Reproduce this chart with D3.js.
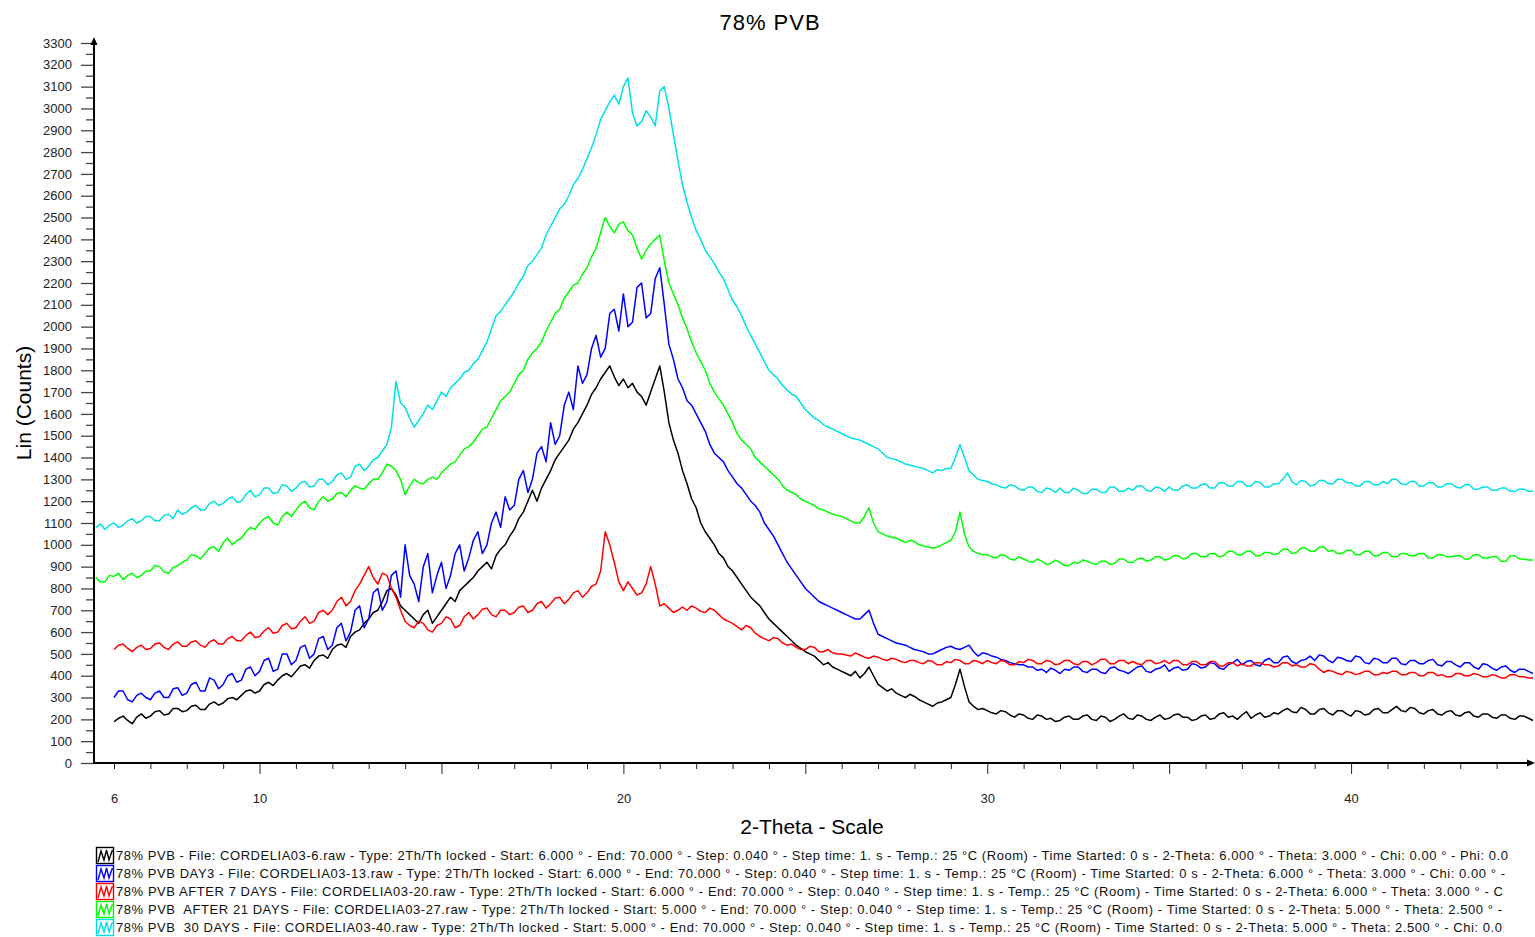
<!DOCTYPE html>
<html>
<head>
<meta charset="utf-8">
<script src="https://cdn.jsdelivr.net/npm/d3@7"></script>
<style>
  body { margin: 0; background: #fff; }
  text { font-family: "Liberation Sans", Arial, sans-serif; }
</style>
</head>
<body>
<svg id="chart" width="1535" height="937"></svg>
<script>
const step = 0.125;

// counts, one row per degree (8 points per degree)
const blackStart = 6;
const blackCounts = [
  190, 205, 215, 195, 180, 210, 225, 205,
  215, 235, 240, 220, 225, 250, 250, 235,
  240, 260, 265, 245, 245, 270, 280, 265,
  275, 295, 300, 290, 310, 330, 335, 320,
  330, 360, 370, 355, 380, 400, 410, 395,
  420, 445, 450, 435, 470, 490, 495, 480,
  520, 540, 545, 530, 580, 600, 610, 640,
  660, 690, 700, 740, 790, 800, 770, 720,
  700, 680, 660, 640, 680, 700, 640, 670,
  700, 730, 760, 740, 790, 810, 830, 850,
  880, 900, 920, 890, 950, 980, 1000, 1040,
  1070, 1120, 1150, 1200, 1250, 1200, 1260, 1300,
  1340, 1390, 1420, 1450, 1480, 1530, 1560, 1600,
  1640, 1690, 1720, 1760, 1790, 1820, 1770, 1730,
  1760, 1720, 1740, 1700, 1680, 1640, 1700, 1760,
  1820, 1700, 1560, 1480, 1420, 1340, 1280, 1210,
  1170, 1100, 1060, 1030, 1000, 960, 940, 900,
  880, 850, 820, 790, 760, 740, 720, 690,
  660, 640, 620, 600, 580, 560, 540, 525,
  510, 500, 490, 470, 450, 460, 440, 430,
  420, 410, 400, 420, 390, 410, 440, 400,
  360, 345, 330, 340, 320, 310, 300, 315,
  305, 290, 280, 270, 260, 275, 280, 290,
  300, 360, 430, 350, 280, 260, 245, 250,
  240, 230, 225, 240, 235, 220, 210, 225,
  220, 205, 200, 220, 215, 200, 205, 190,
  195, 210, 215, 200, 200, 215, 220, 200,
  195, 215, 210, 190, 200, 215, 225, 205,
  200, 220, 215, 200, 195, 210, 220, 200,
  205, 220, 225, 210, 210, 195, 200, 215,
  220, 200, 205, 225, 230, 210, 215, 200,
  220, 235, 205, 220, 230, 210, 215, 230,
  225, 240, 250, 235, 230, 255, 245, 225,
  225, 245, 250, 230, 220, 240, 240, 225,
  215, 240, 235, 220, 225, 245, 250, 230,
  230, 245, 260, 240, 235, 255, 250, 230,
  225, 240, 245, 225, 220, 235, 240, 220,
  215, 230, 235, 215, 210, 225, 225, 210,
  205, 220, 220, 205, 200, 215, 215, 205,
  195
];

const blueStart = 6;
const blueCounts = [
  300, 330, 330, 290, 280, 310, 320, 300,
  290, 320, 330, 300, 300, 340, 345, 310,
  320, 360, 370, 330, 330, 390, 380, 340,
  360, 400, 410, 370, 380, 430, 440, 400,
  420, 470, 480, 420, 430, 500, 500, 450,
  470, 530, 540, 480, 500, 570, 580, 520,
  540, 620, 640, 560, 600, 700, 720, 620,
  660, 780, 800, 700, 740, 860, 880, 760,
  1000, 860, 820, 740, 900, 960, 780, 860,
  920, 800, 860, 960, 1000, 880, 940, 1020,
  1060, 960, 1000, 1100, 1150, 1080, 1220, 1160,
  1180, 1300, 1340, 1240, 1300, 1420, 1450, 1380,
  1560, 1460, 1500, 1640, 1700, 1620, 1820, 1740,
  1780, 1900, 1960, 1860, 1900, 2060, 2080, 1980,
  2150, 2000, 2020, 2180, 2200, 2040, 2060, 2220,
  2270, 2100, 1920, 1850, 1760, 1720, 1660, 1640,
  1600, 1560, 1520, 1460, 1420, 1400, 1380, 1340,
  1310, 1280, 1260, 1230, 1200, 1180, 1150, 1100,
  1070, 1040, 1000, 960, 920, 890, 860, 830,
  800, 780, 760, 740, 730, 720, 710, 700,
  690, 680, 670, 660, 660, 680, 700, 640,
  590, 580, 570, 560, 550, 545, 540, 530,
  520, 515, 510, 500, 500, 510, 520, 530,
  535, 525, 520, 530, 540, 510, 490, 505,
  500, 490, 485, 475, 470, 460, 455, 450,
  450, 440, 440, 425, 430, 415, 435, 425,
  410, 430, 425, 440, 440, 420, 415, 430,
  430, 415, 410, 435, 440, 425, 420, 410,
  425, 440, 445, 420, 415, 430, 435, 450,
  420, 435, 440, 425, 430, 455, 450, 435,
  440, 460, 455, 435, 430, 450, 460, 475,
  450, 465, 470, 450, 445, 470, 480, 460,
  460, 485, 490, 465, 455, 470, 475, 490,
  470, 495, 490, 470, 460, 485, 480, 470,
  465, 490, 485, 460, 455, 480, 475, 460,
  460, 480, 480, 455, 450, 470, 470, 455,
  455, 470, 475, 450, 445, 465, 465, 450,
  440, 460, 460, 440, 430, 455, 450, 435,
  425, 440, 445, 425, 415, 430, 430, 420,
  410
];

const redStart = 6;
const redCounts = [
  520, 540, 545, 525, 510, 530, 540, 520,
  525, 545, 550, 530, 520, 545, 555, 535,
  535, 555, 560, 540, 530, 555, 565, 545,
  545, 570, 580, 560, 560, 585, 600, 575,
  580, 605, 620, 595, 600, 630, 640, 615,
  620, 650, 670, 640, 650, 690, 700, 680,
  700, 740, 760, 720, 740, 790, 820, 860,
  900, 850, 820, 870, 860, 800, 760, 700,
  650, 630, 620, 650, 640, 610, 600, 630,
  640, 670, 660, 620, 630, 670, 690, 660,
  680, 705, 710, 680, 670, 700, 700, 680,
  690, 715, 720, 690, 700, 730, 740, 710,
  730, 755, 760, 730, 750, 780, 790, 760,
  780, 810, 820, 880, 1060, 1000, 920, 830,
  790, 830, 800, 770, 780, 820, 900, 820,
  720, 730, 710, 690, 700, 715, 700, 720,
  710, 695, 690, 710, 700, 680, 660, 650,
  640, 625, 610, 630, 620, 595, 580, 570,
  560, 575, 570, 550, 540, 545, 530, 520,
  520, 535, 530, 510, 510, 520, 505, 500,
  500, 495, 490, 505, 495, 485, 480, 490,
  485, 475, 470, 480, 475, 465, 460, 470,
  470, 460, 455, 470, 465, 450, 450, 465,
  460, 475, 470, 455, 455, 470, 465, 455,
  470, 460, 455, 470, 465, 450, 450, 465,
  460, 475, 470, 455, 455, 470, 465, 450,
  455, 470, 470, 455, 450, 465, 465, 450,
  460, 475, 475, 455, 455, 470, 470, 455,
  465, 455, 450, 470, 470, 455, 460, 470,
  455, 470, 470, 450, 450, 465, 465, 450,
  450, 465, 465, 445, 445, 460, 460, 445,
  455, 445, 445, 460, 460, 450, 450, 440,
  445, 460, 460, 445, 450, 440, 440, 455,
  450, 430, 415, 425, 420, 410, 405, 420,
  415, 405, 410, 420, 420, 405, 405, 415,
  410, 420, 420, 405, 405, 415, 415, 400,
  400, 415, 415, 400, 405, 395, 395, 410,
  410, 400, 400, 410, 405, 395, 395, 405,
  400, 390, 390, 405, 405, 395, 395, 390,
  390
];

const greenStart = 5.5;
const greenCounts = [
  850, 830, 830, 860,
  855, 870, 840, 860, 870, 850, 860, 880,
  880, 905, 900, 875, 870, 895, 905, 920,
  930, 955, 950, 935, 960, 985, 990, 970,
  1010, 1030, 1000, 1020, 1030, 1060, 1080, 1070,
  1100, 1120, 1130, 1100, 1090, 1130, 1150, 1130,
  1160, 1185, 1200, 1170, 1160, 1200, 1220, 1200,
  1210, 1235, 1240, 1220, 1250, 1270, 1260, 1255,
  1280, 1300, 1300, 1330, 1370, 1360, 1340, 1300,
  1230, 1270, 1300, 1285, 1280, 1300, 1310, 1300,
  1330, 1350, 1370, 1380, 1410, 1440, 1450, 1470,
  1500, 1530, 1540, 1580, 1620, 1660, 1680, 1700,
  1740, 1780, 1800, 1850, 1880, 1900, 1930, 1980,
  2020, 2060, 2080, 2130, 2160, 2190, 2200, 2240,
  2270, 2320, 2360, 2430, 2500, 2460, 2430, 2470,
  2480, 2440, 2420, 2360, 2310, 2350, 2380, 2400,
  2420, 2300, 2200, 2150, 2100, 2040, 1990, 1930,
  1880, 1840, 1800, 1740, 1700, 1670, 1640, 1600,
  1560, 1510, 1480, 1460, 1440, 1400, 1380, 1360,
  1340, 1320, 1300, 1270, 1250, 1240, 1230, 1210,
  1200, 1190, 1180, 1165, 1160, 1150, 1140, 1135,
  1130, 1120, 1110, 1100, 1100, 1130, 1170, 1100,
  1060, 1050, 1040, 1035, 1030, 1020, 1010, 1020,
  1015, 1000, 995, 990, 985, 990, 1000, 1010,
  1020, 1060, 1150, 1050, 990, 970, 960, 955,
  955, 945, 940, 955, 950, 935, 930, 945,
  935, 925, 920, 935, 925, 910, 915, 930,
  920, 905, 905, 920, 915, 930, 925, 915,
  910, 925, 925, 910, 915, 935, 935, 920,
  920, 935, 940, 925, 930, 945, 945, 930,
  935, 950, 950, 935, 940, 960, 960, 945,
  945, 960, 960, 945, 950, 970, 970, 955,
  955, 970, 970, 950, 950, 965, 965, 955,
  960, 980, 980, 960, 965, 985, 985, 970,
  970, 990, 990, 970, 975, 960, 960, 975,
  975, 955, 955, 970, 970, 950, 950, 965,
  965, 945, 945, 960, 960, 950, 950, 960,
  960, 940, 940, 955, 955, 945, 945, 950,
  950, 935, 935, 955, 955, 940, 940, 945,
  945, 925, 925, 950, 950, 935, 935, 930,
  930
];

const cyanStart = 5.5;
const cyanCounts = [
  1080, 1095, 1070, 1090,
  1100, 1080, 1090, 1110, 1120, 1100, 1110, 1130,
  1130, 1110, 1110, 1135, 1140, 1120, 1160, 1140,
  1150, 1170, 1180, 1160, 1160, 1190, 1200, 1180,
  1190, 1210, 1220, 1195, 1200, 1230, 1250, 1220,
  1230, 1260, 1260, 1235, 1240, 1275, 1270, 1245,
  1260, 1285, 1290, 1265, 1270, 1300, 1300, 1275,
  1290, 1320, 1330, 1300, 1310, 1360, 1370, 1340,
  1360, 1390, 1400, 1430, 1460, 1540, 1750, 1650,
  1630, 1580, 1540, 1570, 1600, 1640, 1620, 1660,
  1700, 1680, 1720, 1740, 1760, 1790, 1800, 1830,
  1850, 1890, 1930, 1990, 2050, 2070, 2100, 2130,
  2160, 2200, 2230, 2280, 2300, 2330, 2360, 2420,
  2460, 2500, 2540, 2560, 2600, 2650, 2680, 2720,
  2770, 2820, 2880, 2950, 2990, 3030, 3060, 3020,
  3100, 3140, 2980, 2920, 2940, 2990, 2960, 2920,
  3080, 3100, 3000, 2880, 2760, 2650, 2570, 2500,
  2440, 2400, 2350, 2320, 2290, 2250, 2220, 2170,
  2120, 2090, 2050, 2000, 1960, 1920, 1880, 1840,
  1800, 1780, 1760, 1730, 1710, 1690, 1680, 1650,
  1620, 1600, 1580, 1570, 1550, 1540, 1530, 1520,
  1510, 1500, 1490, 1485, 1480, 1470, 1460, 1450,
  1440, 1420, 1400, 1395, 1390, 1380, 1370, 1365,
  1360, 1355, 1350, 1340, 1330, 1345, 1340, 1350,
  1350, 1400, 1460, 1400, 1340, 1320, 1300, 1295,
  1290, 1280, 1275, 1265, 1260, 1275, 1270, 1255,
  1250, 1265, 1265, 1245, 1240, 1260, 1255, 1240,
  1260, 1240, 1240, 1260, 1250, 1235, 1235, 1255,
  1255, 1240, 1240, 1265, 1265, 1245, 1245, 1260,
  1250, 1270, 1270, 1250, 1245, 1265, 1260, 1245,
  1265, 1250, 1250, 1270, 1275, 1260, 1260, 1275,
  1280, 1260, 1260, 1285, 1285, 1270, 1270, 1290,
  1290, 1270, 1270, 1290, 1285, 1265, 1265, 1280,
  1280, 1300, 1330, 1290, 1275, 1295, 1290, 1270,
  1275, 1295, 1295, 1280, 1280, 1300, 1300, 1285,
  1285, 1270, 1270, 1290, 1290, 1275, 1275, 1290,
  1280, 1300, 1300, 1280, 1275, 1290, 1290, 1270,
  1270, 1285, 1285, 1265, 1265, 1280, 1280, 1265,
  1260, 1275, 1275, 1255, 1255, 1265, 1265, 1250,
  1250, 1260, 1260, 1245, 1245, 1255, 1255, 1245,
  1245
];

const legendLabels = [
  "78% PVB - File: CORDELIA03-6.raw - Type: 2Th/Th locked - Start: 6.000 ° - End: 70.000 ° - Step: 0.040 ° - Step time: 1. s - Temp.: 25 °C (Room) - Time Started: 0 s - 2-Theta: 6.000 ° - Theta: 3.000 ° - Chi: 0.00 ° - Phi: 0.0",
  "78% PVB DAY3 - File: CORDELIA03-13.raw - Type: 2Th/Th locked - Start: 6.000 ° - End: 70.000 ° - Step: 0.040 ° - Step time: 1. s - Temp.: 25 °C (Room) - Time Started: 0 s - 2-Theta: 6.000 ° - Theta: 3.000 ° - Chi: 0.00 ° -",
  "78% PVB AFTER 7 DAYS - File: CORDELIA03-20.raw - Type: 2Th/Th locked - Start: 6.000 ° - End: 70.000 ° - Step: 0.040 ° - Step time: 1. s - Temp.: 25 °C (Room) - Time Started: 0 s - 2-Theta: 6.000 ° - Theta: 3.000 ° - C",
  "78% PVB  AFTER 21 DAYS - File: CORDELIA03-27.raw - Type: 2Th/Th locked - Start: 5.000 ° - End: 70.000 ° - Step: 0.040 ° - Step time: 1. s - Temp.: 25 °C (Room) - Time Started: 0 s - 2-Theta: 5.000 ° - Theta: 2.500 ° -",
  "78% PVB  30 DAYS - File: CORDELIA03-40.raw - Type: 2Th/Th locked - Start: 5.000 ° - End: 70.000 ° - Step: 0.040 ° - Step time: 1. s - Temp.: 25 °C (Room) - Time Started: 0 s - 2-Theta: 5.000 ° - Theta: 2.500 ° - Chi: 0.0"
];
const legendTextEnd = [1508, 1505, 1503, 1502, 1502];

const xTickLabels = [6, 10, 20, 30, 40];
const yMajorTicks = d3.range(0, 3301, 100);
const yMinorTicks = d3.range(50, 3300, 100);

const seriesList = [
  {start: blackStart, counts: blackCounts, color: '#000000'},
  {start: blueStart, counts: blueCounts, color: '#0000ff'},
  {start: redStart, counts: redCounts, color: '#ff0000'},
  {start: greenStart, counts: greenCounts, color: '#00ff00'},
  {start: cyanStart, counts: cyanCounts, color: '#00e0e8'}
];

let svg = d3.select('#chart');
let plotLeft = 94, plotRight = 1533, plotTop = 43, plotBottom = 763;

let x = d3.scaleLinear().domain([5.45, 45]).range([plotLeft, plotRight]);
let y = d3.scaleLinear().domain([0, 3300]).range([plotBottom, plotTop]);

// title and axis titles
svg.append('text')
  .attr('x', 770).attr('y', 30)
  .attr('text-anchor', 'middle')
  .attr('font-size', 22).attr('letter-spacing', 1)
  .text('78% PVB');

svg.append('text')
  .attr('x', 812).attr('y', 834)
  .attr('text-anchor', 'middle')
  .attr('font-size', 21)
  .text('2-Theta - Scale');

svg.append('text')
  .attr('transform', 'translate(31,403) rotate(-90)')
  .attr('text-anchor', 'middle')
  .attr('font-size', 21)
  .text('Lin (Counts)');

// y axis: labelled ticks every 100, short ticks between
svg.append('g')
  .attr('transform', 'translate(' + plotLeft + ',0)')
  .call(d3.axisLeft(y).tickValues(yMajorTicks).tickSize(13).tickPadding(9).tickFormat(d3.format('d')))
  .call(g => g.select('.domain').remove())
  .call(g => g.selectAll('line').attr('stroke', '#444').attr('stroke-width', 1.3))
  .call(g => g.selectAll('text').attr('font-size', 13).attr('fill', '#222')
    .attr('font-family', '"Liberation Sans", Arial, sans-serif'));

svg.append('g')
  .attr('transform', 'translate(' + plotLeft + ',0)')
  .call(d3.axisLeft(y).tickValues(yMinorTicks).tickSize(8).tickFormat(''))
  .call(g => g.select('.domain').remove())
  .call(g => g.selectAll('line').attr('stroke', '#444').attr('stroke-width', 1.3));

// x axis: tick each degree, longer every 5, labels only at a few
let xMinor = d3.range(6, 45, 1).filter(d => d % 5 !== 0);
let xMajor = d3.range(10, 45, 5);

svg.append('g')
  .attr('transform', 'translate(0,' + plotBottom + ')')
  .call(d3.axisBottom(x).tickValues(xMinor).tickSize(6).tickFormat(''))
  .call(g => g.select('.domain').remove())
  .call(g => g.selectAll('line').attr('stroke', '#222'));

svg.append('g')
  .attr('transform', 'translate(0,' + plotBottom + ')')
  .call(d3.axisBottom(x).tickValues(xMajor).tickSize(11).tickFormat(''))
  .call(g => g.select('.domain').remove())
  .call(g => g.selectAll('line').attr('stroke', '#222'));

svg.append('g')
  .attr('transform', 'translate(0,' + plotBottom + ')')
  .call(d3.axisBottom(x).tickValues(xTickLabels).tickSize(0).tickPadding(31).tickFormat(d3.format('d')))
  .call(g => g.select('.domain').remove())
  .call(g => g.selectAll('text').attr('font-size', 13).attr('fill', '#222')
    .attr('font-family', '"Liberation Sans", Arial, sans-serif'));

// axis lines with arrow heads
svg.append('line')
  .attr('x1', plotLeft).attr('y1', plotBottom + 1).attr('x2', plotLeft).attr('y2', 40)
  .attr('stroke', '#000').attr('stroke-width', 2);
svg.append('path')
  .attr('d', 'M' + plotLeft + ',37 l-3.5,8 l7,0 z')
  .attr('fill', '#000');
svg.append('line')
  .attr('x1', plotLeft - 1).attr('y1', plotBottom).attr('x2', 1530).attr('y2', plotBottom)
  .attr('stroke', '#000').attr('stroke-width', 2);
svg.append('path')
  .attr('d', 'M1535,' + plotBottom + ' l-8,-3.5 l0,7 z')
  .attr('fill', '#000');

// scans
let line = d3.line()
  .x(d => x(d[0]))
  .y(d => y(d[1]));

for (let s of seriesList) {
  let pts = s.counts.map((c, i) => [s.start + i * step, c]);
  svg.append('path')
    .datum(pts)
    .attr('fill', 'none')
    .attr('stroke', s.color)
    .attr('stroke-width', 1.5)
    .attr('stroke-linejoin', 'round')
    .attr('d', line);
}

// legend
let legend = svg.append('g');
seriesList.forEach(function (s, i) {
  let cy = 855 + i * 18;
  let g = legend.append('g').attr('transform', 'translate(96,' + (cy - 8) + ')');
  g.append('rect')
    .attr('x', 0.5).attr('y', 0.5).attr('width', 17).attr('height', 16)
    .attr('fill', 'none').attr('stroke', s.color).attr('stroke-width', 1.4);
  g.append('path')
    .attr('d', 'M2,15 L5,4 L8,13 L10.5,3 L13,13 L16,4 L18,4')
    .attr('fill', 'none').attr('stroke', s.color).attr('stroke-width', 1.4);
  legend.append('text')
    .attr('x', 116).attr('y', cy + 5)
    .attr('font-size', 13)
    .attr('fill', '#111')
    .style('white-space', 'pre')
    .attr('textLength', legendTextEnd[i] - 116)
    .attr('lengthAdjust', 'spacing')
    .text(legendLabels[i]);
});
</script>
</body>
</html>
